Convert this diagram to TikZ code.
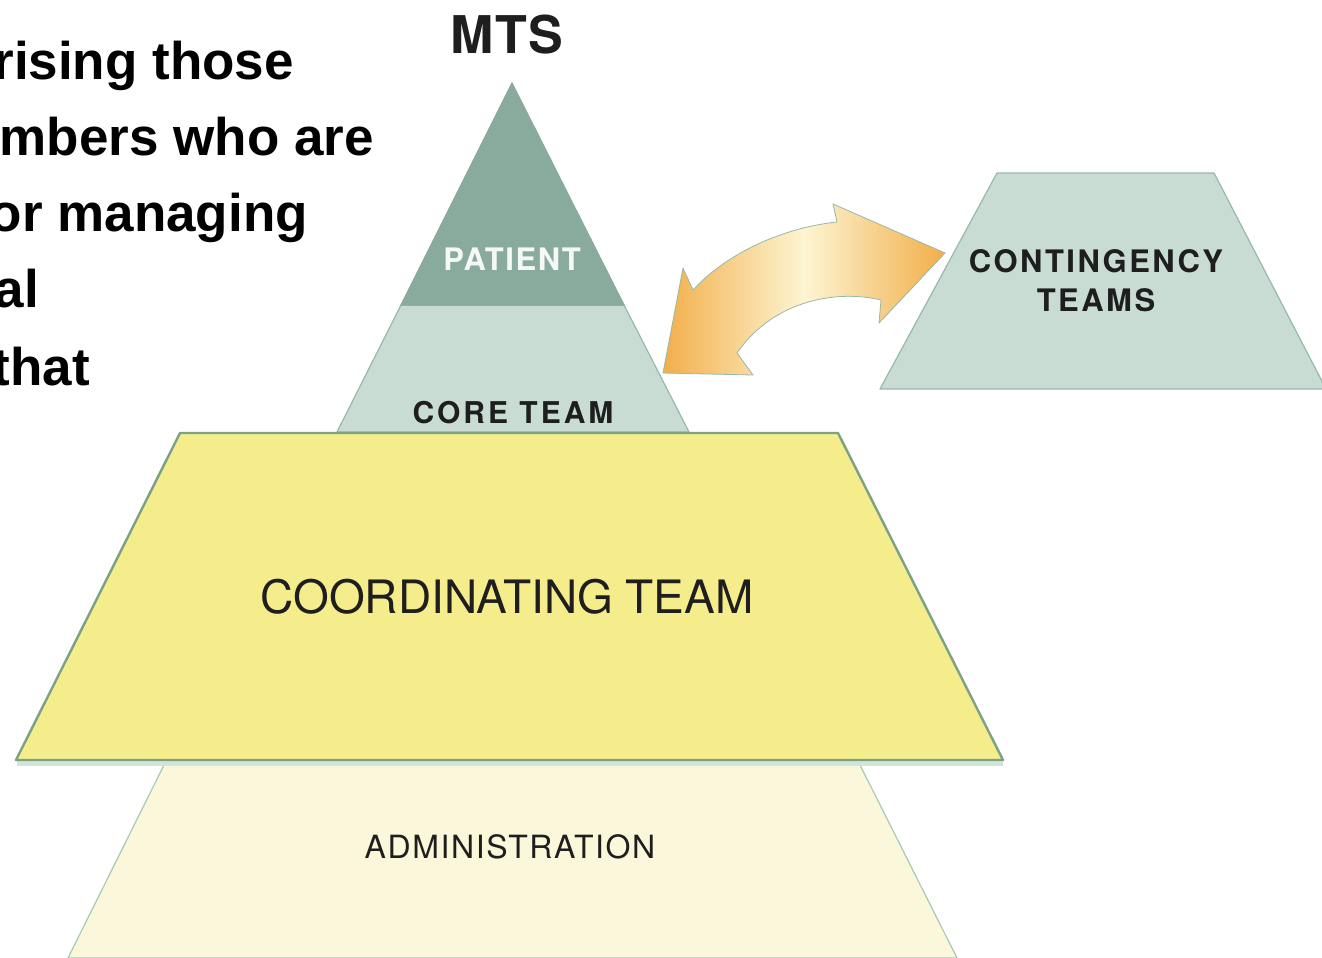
\documentclass[tikz,border=0pt]{standalone}
\usepackage{fontspec}
\setmainfont{TeX Gyre Heros}
\newfontfamily\introfont{Liberation Sans}
\newcommand{\tracked}[1]{\addfontfeatures{LetterSpace=#1}}
\definecolor{patientgreen}{HTML}{89AB9E}
\definecolor{coregreen}{HTML}{C8DCD3}
\definecolor{tealedge}{HTML}{97B9AA}
\definecolor{coordyellow}{HTML}{F5EC8C}
\definecolor{coordedge}{HTML}{7AA283}
\definecolor{coordshadow}{HTML}{D3E5DA}
\definecolor{adminyellow}{HTML}{FBF7DA}
\definecolor{adminedge}{HTML}{A8C9BA}
\definecolor{arroworange}{HTML}{F2AE4A}
\definecolor{arrowpale}{HTML}{FDF5D2}
\definecolor{labelgray}{HTML}{1E1E1E}
\tikzset{
  layer/.style={line width=1.2pt,line join=round},
  intro/.style={anchor=base east,inner sep=0pt,font=\introfont\bfseries\fontsize{53}{60}\selectfont},
  tag/.style={inner sep=0pt,text=labelgray,align=center}
}
\begin{document}
\begin{tikzpicture}[x=1pt,y=-1pt]
   \useasboundingbox[fill=white] (0,0) rectangle (1322,958);
   \node[intro] (l1) at (294,79) {rising those};
   \node[intro] (l2) at (374,155) {mbers who are};
   \node[intro] (l3) at (308,231) {or managing};
   \node[intro] (l4) at (39,307) {al};
   \node[intro] (l5) at (90,385) {that};
   \node[tag,anchor=base,font=\bfseries\fontsize{52}{60}\selectfont\tracked{3}] (mts) at (507,53) {MTS};
   \filldraw[layer,draw=adminedge,fill=adminyellow] (164,765) -- (860,765) -- (957,958) -- (68,958) -- cycle;
   \filldraw[layer,draw=tealedge,fill=coregreen] (401,305) -- (337,432) -- (689,432) -- (624,305) -- cycle;
   \filldraw[layer,draw=patientgreen,fill=patientgreen] (512,83) -- (401,305) -- (624,305) -- cycle;
   \fill[coordshadow] (17,760) -- (1003,760) -- (1003,766) -- (17,766) -- cycle;
   \filldraw[layer,line width=2.4pt,draw=coordedge,fill=coordyellow] (180,433) -- (838,433) -- (1003,760) -- (16,760) -- cycle;
   \filldraw[layer,draw=tealedge,fill=coregreen] (997,173) -- (1214,173) -- (1326,389) -- (880,389) -- cycle;
   \shadedraw[layer,line width=0.8pt,draw=tealedge,left color=arroworange,right color=arroworange,middle color=arrowpale]
      (663,373) -- (683,268) -- (693,290) .. controls (725,255) and (780,228) .. (837,222)
      -- (833,204) -- (945,253) -- (879,323) -- (881,300)
      .. controls (840,290) and (775,298) .. (737,353) -- (753,375) -- cycle;
   \node[tag,anchor=base,text=white!92!patientgreen,font=\bfseries\fontsize{31}{36}\selectfont\tracked{5}] (patient) at (512,270) {PATIENT};
   \node[tag,anchor=base,font=\bfseries\fontsize{30}{36}\selectfont\tracked{10}] (core) at (513,423) {CORE TEAM};
   \node[tag,anchor=base,font=\fontsize{46}{54}\selectfont] (coord) at (507,613) {COORDINATING TEAM};
   \node[tag,anchor=base,font=\fontsize{32}{38}\selectfont\tracked{5}] (admin) at (510,858) {ADMINISTRATION};
   \node[tag,anchor=base,font=\bfseries\fontsize{31}{39}\selectfont\tracked{8}] (contingency) at (1096,311) {CONTINGENCY\\TEAMS};
\end{tikzpicture}
\end{document}
